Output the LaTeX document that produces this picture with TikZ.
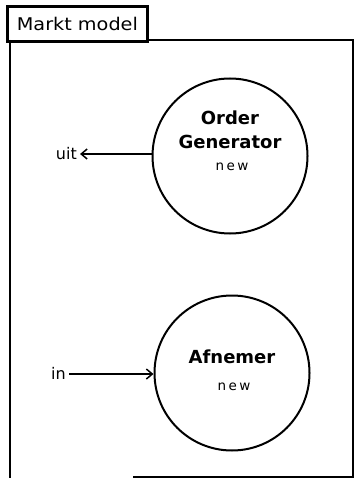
\documentclass[tikz,border=0pt]{standalone}
\usepackage{fontspec}
\setmainfont{DejaVu Sans}
\newfontfamily\spacedfont[LetterSpace=18]{DejaVu Sans}
\usetikzlibrary{arrows.meta}
\tikzset{
  frameline/.style={line width=2.8pt, black},
  actor/.style={circle, draw, line width=2pt, minimum size=155pt, inner sep=0pt},
  port/.style={inner sep=0pt, font=\fontsize{16}{16}\selectfont},
  title/.style={font=\bfseries\fontsize{18}{18}\selectfont},
  sub/.style={font=\spacedfont\fontsize{13.5}{13.5}\selectfont},
  conn/.style={line width=1.8pt, -{Straight Barb[length=6pt,width=10pt,line width=1.5pt]}},
}
\begin{document}
\begin{tikzpicture}[x=1pt,y=-1pt]
\useasboundingbox (0,0) rectangle (354,478);
% frame
\draw[frameline] (10,40) -- (10,478);
\draw[frameline] (146,40) -- (353,40) -- (353,478);
\draw[frameline] (133,477) -- (353,477);
% tab
\node[draw, line width=2.8pt, minimum width=140pt, minimum height=35pt, inner sep=0pt, anchor=north west,
      font=\fontsize{17.5}{17.5}\selectfont] (tab) at (6,5) {\scalebox{1.1}[1]{Markt model}};
% actors
\node[actor] (og) at (230,156) {};
\node[title] (ogt1) at (230,118) {Order};
\node[title] (ogt2) at (230,142) {Generator};
\node[sub] (ogn) at (232,167) {new};
\node[actor] (af) at (232,373) {};
\node[title] (aft) at (232,357) {Afnemer};
\node[sub] (afn) at (234,387) {new};
% ports
\node[port, anchor=east] (uit) at (77,154) {uit};
\coordinate (uitend) at (80,154);
\node[port, anchor=east] (in) at (66,373) {in};
\coordinate (instart) at (69,374);
\draw[conn] (og.west |- uitend) -- (uitend);
\draw[conn] (instart) -- (af.west |- instart);
\end{tikzpicture}
\end{document}
